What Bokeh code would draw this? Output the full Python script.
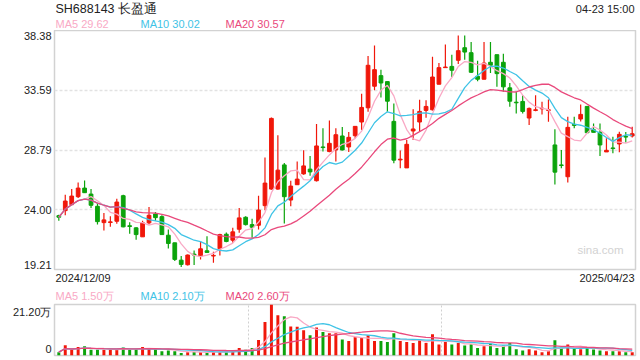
from bokeh.plotting import figure
from bokeh.layouts import column
from bokeh.models import ColumnDataSource, FixedTicker, Label, Range1d
from bokeh.embed import file_html
from bokeh.resources import INLINE
from bokeh.core.properties import value
import pandas as pd

# ---------------- data ----------------
title_text = "SH688143 长盈通"
time_text = "04-23 15:00"
start_date = "2024/12/09"
end_date = "2025/04/23"
ma_price_labels = ["MA5 29.62", "MA10 30.02", "MA20 30.57"]
ma_vol_labels = ["MA5 1.50万", "MA10 2.10万", "MA20 2.60万"]
price_ticks = [19.21, 24.00, 28.79, 33.59, 38.38]
vol_max = 21.20

opens = [23.53, 23.93, 24.41, 25.05, 25.74, 25.26, 24.28, 22.97, 22.98, 23.08,
         25.13, 22.72, 22.55, 21.83, 22.95, 23.66, 23.45, 21.96, 21.35, 19.96,
         19.59, 20.44, 20.29, 20.71, 20.29, 20.87, 22.04, 21.56, 22.44, 23.40,
         22.81, 22.76, 24.33, 25.66, 25.66, 27.60, 24.78, 26.01, 26.88, 27.26,
         26.33, 29.04, 28.67, 28.80, 29.92, 29.04, 29.94, 31.04, 32.18, 33.91,
         34.76, 34.28, 31.09, 28.00, 27.36, 30.32, 31.04, 31.97, 32.02, 34.07,
         35.40, 35.50, 35.99, 37.00, 36.60, 34.71, 34.47, 35.83, 36.44, 35.83,
         33.78, 32.63, 32.69, 31.36, 31.97, 32.10, 31.97, 29.20, 27.60, 26.65,
         30.85, 31.28, 32.29, 30.42, 30.21, 28.64, 28.96, 29.28, 29.89, 29.92]
highs = [23.61, 25.21, 25.66, 26.19, 26.35, 25.66, 24.54, 23.75, 23.48, 24.89,
         25.21, 23.00, 22.60, 23.13, 24.22, 23.82, 23.56, 22.41, 21.35, 20.29,
         20.42, 20.74, 21.46, 21.88, 20.63, 22.07, 22.17, 22.55, 24.14, 23.48,
         23.29, 25.13, 28.19, 31.41, 29.97, 27.76, 26.33, 27.87, 28.77, 28.32,
         30.88, 30.53, 31.17, 30.53, 30.64, 30.24, 30.69, 33.30, 36.33, 37.18,
         35.24, 34.28, 32.53, 28.75, 29.60, 32.07, 32.82, 32.79, 36.28, 35.77,
         37.26, 36.44, 37.98, 37.98, 37.45, 35.96, 37.45, 37.45, 36.44, 36.52,
         34.17, 33.46, 33.19, 32.21, 33.19, 32.66, 32.85, 30.45, 28.80, 31.46,
         31.46, 32.45, 32.29, 30.93, 30.93, 29.73, 29.86, 30.26, 30.24, 30.66]
lows = [23.13, 23.56, 24.36, 24.94, 25.34, 24.14, 22.81, 22.33, 22.63, 22.87,
        22.60, 22.07, 21.59, 21.83, 22.81, 23.13, 22.01, 20.90, 19.89, 19.41,
        19.54, 19.57, 20.02, 20.58, 19.75, 20.34, 21.40, 21.35, 22.15, 22.73,
        21.75, 22.41, 23.96, 25.61, 25.61, 22.89, 24.28, 26.01, 26.80, 26.72,
        26.27, 28.67, 28.61, 27.87, 28.75, 28.64, 29.73, 30.40, 31.86, 33.59,
        33.00, 31.86, 27.74, 27.34, 27.36, 29.60, 30.32, 31.38, 31.97, 34.07,
        35.37, 34.65, 35.69, 36.04, 34.97, 34.31, 34.47, 34.97, 33.86, 33.46,
        32.26, 31.73, 31.73, 30.80, 31.91, 31.65, 31.06, 26.03, 27.34, 26.19,
        30.53, 31.09, 30.18, 30.21, 28.32, 28.64, 28.53, 28.61, 29.39, 29.79]
closes = [23.40, 24.70, 25.10, 25.74, 25.37, 24.36, 23.05, 23.19, 23.03, 24.62,
          22.63, 22.66, 22.01, 22.95, 23.56, 23.37, 22.01, 21.30, 20.02, 19.62,
          20.37, 20.37, 20.87, 20.58, 20.34, 22.01, 21.46, 22.23, 23.35, 22.81,
          22.60, 23.98, 26.14, 31.33, 27.18, 25.05, 25.90, 26.46, 27.52, 27.04,
          29.12, 28.99, 29.33, 30.02, 28.80, 29.81, 30.69, 32.21, 35.59, 35.24,
          34.17, 32.71, 27.98, 28.06, 29.25, 30.48, 31.89, 32.29, 34.65, 35.40,
          35.45, 35.19, 36.76, 36.65, 35.03, 34.47, 35.77, 35.59, 34.92, 33.86,
          32.71, 32.58, 31.89, 32.13, 32.02, 32.15, 32.02, 27.02, 27.55, 30.61,
          30.77, 31.65, 30.18, 30.21, 29.20, 28.77, 28.91, 30.05, 29.83, 30.10]
volumes = [1.4, 4.3, 2.4, 3.5, 3.8, 2.4, 2.4, 2.4, 2.4, 2.6,
           3.3, 2.4, 2.6, 3.5, 2.9, 2.6, 1.8, 2.1, 1.8, 1.0,
           1.3, 1.5, 1.5, 1.3, 1.5, 1.5, 1.5, 2.1, 3.1, 2.4,
           3.1, 6.4, 13.9, 21.2, 16.7, 16.3, 12.1, 11.9, 10.5, 8.4,
           11.6, 9.8, 9.3, 9.3, 6.7, 6.0, 7.7, 7.3, 8.4, 6.0,
           6.0, 5.6, 9.3, 6.0, 5.6, 5.2, 6.3, 5.2, 8.8, 4.6,
           5.6, 4.6, 5.2, 4.2, 4.7, 3.1, 3.8, 4.9, 3.1, 4.2,
           5.2, 2.6, 2.1, 2.6, 2.1, 1.3, 1.8, 6.3, 3.2, 4.6,
           2.8, 2.6, 3.2, 2.5, 2.1, 1.8, 1.8, 1.8, 1.3, 1.3]

# ---------------- styles ----------------
RED = "#f0170a"
GREEN = "#0ba30b"
MA_COLORS = ["#f9a9c5", "#3fc3e6", "#e9497c"]
FONT = "Liberation Sans"
TXT = "#222222"
W = 640

df = pd.DataFrame(dict(o=opens, h=highs, l=lows, c=closes, v=volumes))
df["x"] = range(len(df))
df["top"] = df[["o", "c"]].max(axis=1)
df["bottom"] = df[["o", "c"]].min(axis=1)
df["color"] = [RED if c >= o else GREEN for o, c in zip(df.o, df.c)]
for n in (5, 10, 20):
    df[f"ma{n}"] = df.c.rolling(n, min_periods=1).mean()
    df[f"vma{n}"] = df.v.rolling(n, min_periods=1).mean()
src = ColumnDataSource(df)

X0, X1 = -0.67, len(df) - 1 + 0.51
FRAME_L, FRAME_R = 54, 635


def text_strip(height, items):
    """A strip whose frame is aligned with the panels and whose ranges are pixels."""
    s = figure(width=W, height=height, output_backend="svg", toolbar_location=None,
               x_range=Range1d(FRAME_L, FRAME_R), y_range=Range1d(height, 0),
               min_border_left=FRAME_L, min_border_right=W - FRAME_R,
               min_border_top=0, min_border_bottom=0)
    s.axis.visible = False
    s.grid.visible = False
    s.outline_line_color = None
    for x, y, t, size, col, align in items:
        s.text(x=[x], y=[y], text=[t], text_font=value(FONT), text_font_size=size,
               text_color=col, text_align=align, text_baseline="middle")
    return s


def style_left_axis(ax):
    ax.axis_line_color = None
    ax.major_tick_line_color = None
    ax.minor_tick_line_color = None
    ax.major_tick_out = 0
    ax.major_tick_in = 0
    ax.major_label_standoff = 3
    ax.major_label_text_font = FONT
    ax.major_label_text_font_size = "11px"
    ax.major_label_text_color = TXT


# ---------------- header (y 0..30) ----------------
head_items = [(55, 8, title_text, "12.5px", TXT, "left"),
              (634, 8, time_text, "11px", TXT, "right")]
for lx, t, col in zip((55, 140, 225), ma_price_labels, MA_COLORS):
    head_items.append((lx, 23.3, t, "11px", col, "left"))
header = text_strip(30, head_items)

# ---------------- price panel (y 30..271, frame 30..269) ----------------
H1 = 241
p = figure(width=W, height=H1, output_backend="svg", toolbar_location=None,
           x_range=Range1d(X0, X1), y_range=Range1d(price_ticks[0], price_ticks[-1]),
           min_border_left=FRAME_L, min_border_right=W - FRAME_R,
           min_border_top=0, min_border_bottom=2)
py_per_unit = (H1 - 2) / (price_ticks[-1] - price_ticks[0])
p.xaxis.visible = False
p.xgrid.visible = False
p.outline_line_color = "#d2d2d2"
p.outline_line_width = 1.5
p.ygrid.ticker = FixedTicker(ticks=price_ticks[1:-1])
p.ygrid.grid_line_color = "#e2e2e2"
p.ygrid.grid_line_dash = "3 2"
p.ygrid.grid_line_width = 1.5

# tick labels; the outer two sit just inside the frame as in the reference
shift = 5 / py_per_unit
tick_pos = [price_ticks[0] + shift] + price_ticks[1:-1] + [price_ticks[-1] - shift]
p.yaxis.ticker = FixedTicker(ticks=tick_pos)
p.yaxis.major_label_overrides = {t: f"{v:.2f}" for t, v in zip(tick_pos, price_ticks)}
style_left_axis(p.yaxis)

p.segment(x0="x", y0="l", x1="x", y1="h", color="color", line_width=1.2, source=src)
p.vbar(x="x", width=0.58, top="top", bottom="bottom", fill_color="color",
       line_color="color", line_width=1, source=src)
for n, col in zip((5, 10, 20), MA_COLORS):
    p.line(x="x", y=f"ma{n}", color=col, line_width=1.3, source=src)

px_per_x = (FRAME_R - FRAME_L) / (X1 - X0)
p.add_layout(Label(x=X0 + (623 - FRAME_L) / px_per_x,
                   y=price_ticks[-1] - (249 - 30) / py_per_unit,
                   text="sina.com", text_font=FONT, text_font_size="11.5px",
                   text_color="#d2d2d2", text_align="right", text_baseline="middle"))

# ---------------- middle strip (y 271..302) ----------------
mid_items = [(55, 6.5, start_date, "11px", TXT, "left"),
             (634, 6.5, end_date, "11px", TXT, "right")]
for lx, t, col in zip((55, 140, 225), ma_vol_labels, MA_COLORS):
    mid_items.append((lx, 24, t, "11px", col, "left"))
middle = text_strip(31, mid_items)

# ---------------- volume panel (y 302..360, frame 304..355) ----------------
H2 = 58
v = figure(width=W, height=H2, output_backend="svg", toolbar_location=None,
           x_range=p.x_range, y_range=Range1d(0, vol_max),
           min_border_left=FRAME_L, min_border_right=W - FRAME_R,
           min_border_top=2, min_border_bottom=5)
vy_per_unit = (H2 - 7) / vol_max
v.xaxis.visible = False
v.outline_line_color = "#d2d2d2"
v.outline_line_width = 1.5
v.ygrid.ticker = FixedTicker(ticks=[vol_max])
v.ygrid.grid_line_color = "#d0d0d0"
v.ygrid.grid_line_dash = "3 2"
v.ygrid.grid_line_width = 1.5
v.xgrid.ticker = FixedTicker(ticks=[X0 + (X1 - X0) / 3, X0 + 2 * (X1 - X0) / 3])
v.xgrid.grid_line_color = "#d0d0d0"
v.xgrid.grid_line_dash = "2 2"
v.xgrid.grid_line_width = 1

vtick_pos = [6.5 / vy_per_unit, vol_max - 7.5 / vy_per_unit]
v.yaxis.ticker = FixedTicker(ticks=vtick_pos)
v.yaxis.major_label_overrides = {vtick_pos[0]: "0", vtick_pos[1]: f"{vol_max:.2f}万"}
style_left_axis(v.yaxis)

v.vbar(x="x", width=0.46, top="v", bottom=0, fill_color="color", line_color=None, source=src)
for n, col in zip((5, 10, 20), MA_COLORS):
    v.line(x="x", y=f"vma{n}", color=col, line_width=1.3, source=src)

layout = column(header, p, middle, v, spacing=0)
open("out.html", "w").write(file_html(layout, INLINE))
